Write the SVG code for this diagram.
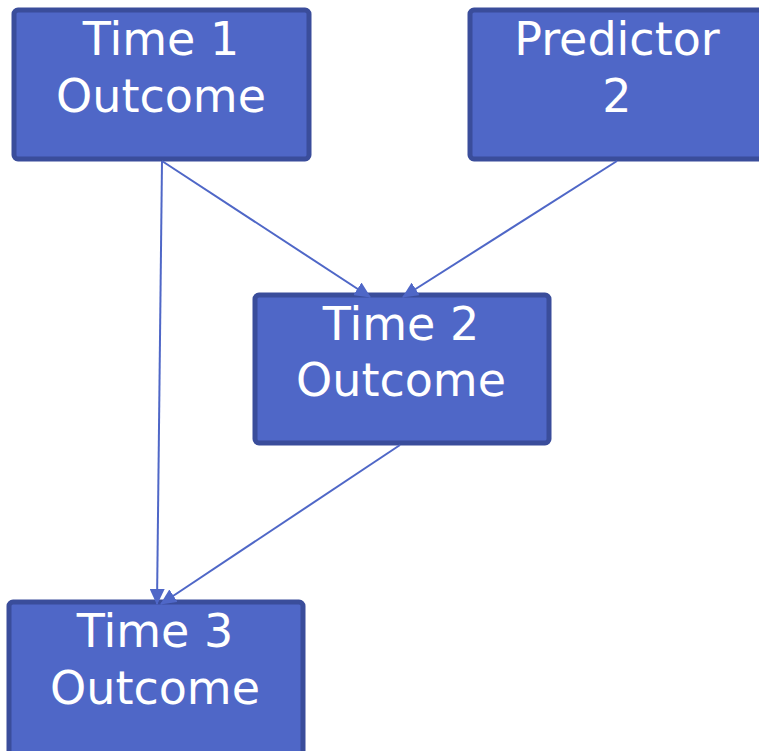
<svg xmlns="http://www.w3.org/2000/svg" width="759" height="751" viewBox="0 0 759 751">
  <style>
    .box { fill: #4F67C7; stroke: #3A4D9B; stroke-width: 5; }
    .lbl { font-family: "DejaVu Sans", Verdana, sans-serif; font-size: 46px; fill: #FFFFFF; text-anchor: middle; }
    .edge { stroke: #4F67C7; stroke-width: 2; fill: none; marker-end: url(#arrow); }
  </style>
  <defs>
    <marker id="arrow" markerWidth="16" markerHeight="15" refX="15" refY="7.5" orient="auto" markerUnits="userSpaceOnUse" viewBox="0 0 16 15">
      <path d="M0,0 L16,7.5 L0,15 Z" fill="#4F67C7"/>
    </marker>
  </defs>
  <rect width="759" height="751" fill="#FFFFFF"/>

  <g id="time1">
    <rect class="box" x="14" y="10" width="295" height="149" rx="4"/>
    <text class="lbl" x="161" y="55">Time 1</text>
    <text class="lbl" x="161" y="112">Outcome</text>
  </g>

  <g id="predictor2">
    <rect class="box" x="470" y="10" width="295" height="149" rx="4"/>
    <text class="lbl" x="617" y="55">Predictor</text>
    <text class="lbl" x="617" y="112">2</text>
  </g>

  <g id="time2">
    <rect class="box" x="255" y="295" width="294" height="148" rx="4"/>
    <text class="lbl" x="401" y="340">Time 2</text>
    <text class="lbl" x="401" y="396">Outcome</text>
  </g>

  <g id="time3">
    <rect class="box" x="9" y="602" width="294" height="155" rx="4"/>
    <text class="lbl" x="155" y="647">Time 3</text>
    <text class="lbl" x="155" y="704">Outcome</text>
  </g>

  <g id="connectors">
    <line class="edge" x1="162" y1="161" x2="370" y2="297"/>
    <line class="edge" x1="617" y1="161" x2="403" y2="297"/>
    <line class="edge" x1="162" y1="161" x2="157" y2="604"/>
    <line class="edge" x1="400" y1="445" x2="161" y2="604"/>
  </g>
</svg>
